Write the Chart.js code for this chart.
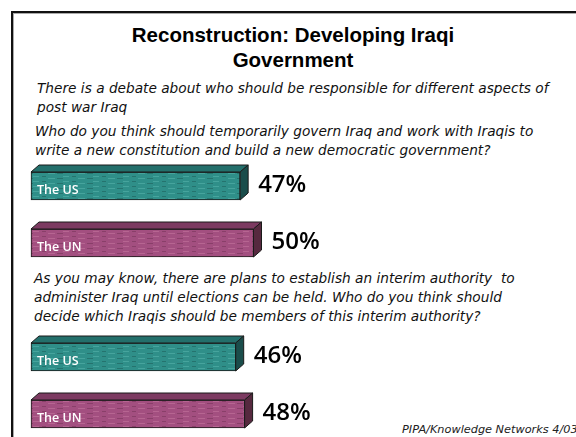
<!DOCTYPE html>
<html>
<head>
<meta charset="utf-8">
<script src="https://cdn.jsdelivr.net/npm/chart.js@4/dist/chart.umd.min.js"></script>
<style>
  html, body { margin: 0; padding: 0; background: #fff; }
  body { width: 576px; height: 437px; position: relative; overflow: hidden;
    font-family: 'Liberation Sans', Arial, sans-serif; }
  .frame { position: absolute; left: 11px; top: 11px; right: -5px; bottom: -5px;
    border-top: 2px solid #111; border-left: 2px solid #111;
    box-shadow: inset 1px 1px 0 #aaa; }
  .title { position: absolute; left: 0; width: 586px; top: 22px; text-align: center;
    font-weight: bold; font-size: 20.5px; line-height: 25px; color: #000; }
  .q { position: absolute; font-family: 'DejaVu Sans', sans-serif; font-style: italic;
    font-size: 13.7px; line-height: 18.5px; color: #111; white-space: nowrap; }
  .src { position: absolute; left: 402px; top: 423px; font-family: 'DejaVu Sans', sans-serif;
    font-style: italic; font-size: 11.3px; color: #222; white-space: nowrap; }
  #chart { position: absolute; left: 0; top: 0; }
</style>
</head>
<body>
<div class="frame"></div>
<div class="title">Reconstruction: Developing Iraqi<br>Government</div>
<div class="q" style="left:37px; top:79px;">There is a debate about who should be responsible for different aspects of<br>post war Iraq</div>
<div class="q" style="left:35px; top:122px;">Who do you think should temporarily govern Iraq and work with Iraqis to<br>write a new constitution and build a new democratic government?</div>
<div class="q" style="left:34px; top:269px; line-height:19px;">As you may know, there are plans to establish an interim authority &nbsp;to<br>administer Iraq until elections can be held. Who do you think should<br>decide which Iraqis should be members of this interim authority?</div>
<div class="src">PIPA/Knowledge Networks 4/03</div>
<canvas id="chart" width="576" height="437"></canvas>
<script>
// answers for the two questions, percent of respondents
const choices = ['The US', 'The UN'];
const governPct = [47, 50];
const membersPct = [46, 48];

// blank slot between the two questions
const labels = [...choices, '', ...choices];
const values = [...governPct, null, ...membersPct];

const palette = {
  'The US': {face: '#2f8f89', light: '#46a49d', dark: '#25736e', top: '#236f6b', side: '#1a4d4b'},
  'The UN': {face: '#a34f80', light: '#b66591', dark: '#893f69', top: '#7c3a61', side: '#56293f'},
};

// faint dashed streaks on the bar faces
const makePattern = (c) => {
  const p = document.createElement('canvas');
  p.width = 30;
  p.height = 5;
  const g = p.getContext('2d');
  g.fillStyle = c.face;
  g.fillRect(0, 0, 30, 5);
  g.fillStyle = c.light;
  g.fillRect(3, 1, 6, 1);
  g.fillRect(18, 3, 7, 1);
  g.fillStyle = c.dark;
  g.fillRect(12, 1, 4, 1);
  g.fillRect(0, 3, 3, 1);
  g.fillRect(27, 3, 3, 1);
  return g.createPattern(p, 'repeat');
};

const ctx = document.getElementById('chart').getContext('2d');
const fills = labels.map((l) => palette[l] ? makePattern(palette[l]) : 'transparent');

const DEPTH_X = 8;
const DEPTH_Y = 7;

// top and side faces, the label inside the bar and the value next to it
const bar3d = {
  id: 'bar3d',
  afterDatasetsDraw(chart) {
    const c = chart.ctx;
    const meta = chart.getDatasetMeta(0);
    meta.data.forEach((bar, i) => {
      const v = values[i];
      if (v == null) return;
      const col = palette[labels[i]];
      const left = bar.base;
      const right = bar.x;
      const top = bar.y - bar.height / 2;
      const bottom = bar.y + bar.height / 2;
      c.save();
      c.lineWidth = 1;
      c.strokeStyle = '#1a1a1a';
      c.lineJoin = 'round';
      // top face
      c.beginPath();
      c.moveTo(left, top);
      c.lineTo(left + DEPTH_X, top - DEPTH_Y);
      c.lineTo(right + DEPTH_X, top - DEPTH_Y);
      c.lineTo(right, top);
      c.closePath();
      c.fillStyle = col.top;
      c.fill();
      c.stroke();
      // side face
      c.beginPath();
      c.moveTo(right, top);
      c.lineTo(right + DEPTH_X, top - DEPTH_Y);
      c.lineTo(right + DEPTH_X, bottom - DEPTH_Y);
      c.lineTo(right, bottom);
      c.closePath();
      c.fillStyle = col.side;
      c.fill();
      c.stroke();
      // label inside the bar
      c.fillStyle = '#fff';
      c.font = '600 12.5px "Open Sans", sans-serif';
      c.textBaseline = 'middle';
      c.textAlign = 'left';
      c.fillText(labels[i], left + 6, bar.y + 4);
      // value label
      c.fillStyle = '#000';
      c.font = '600 24px "Open Sans", sans-serif';
      c.fillText(v + '%', right + DEPTH_X + 10, bar.y - 1);
      c.restore();
    });
  },
};

new Chart(ctx, {
  type: 'bar',
  data: {
    labels: labels,
    datasets: [{
      data: values,
      backgroundColor: fills,
      borderColor: '#1a1a1a',
      borderWidth: 1,
      borderSkipped: false,
      barThickness: 28,
      clip: false,
    }],
  },
  options: {
    indexAxis: 'y',
    responsive: false,
    animation: false,
    layout: {
      padding: {left: 31, right: 100, top: 186, bottom: 23},
    },
    scales: {
      x: {display: false, min: 0, max: 100},
      y: {display: false, offset: false},
    },
    plugins: {
      legend: {display: false},
      tooltip: {enabled: false},
    },
  },
  plugins: [bar3d],
});
</script>
</body>
</html>
